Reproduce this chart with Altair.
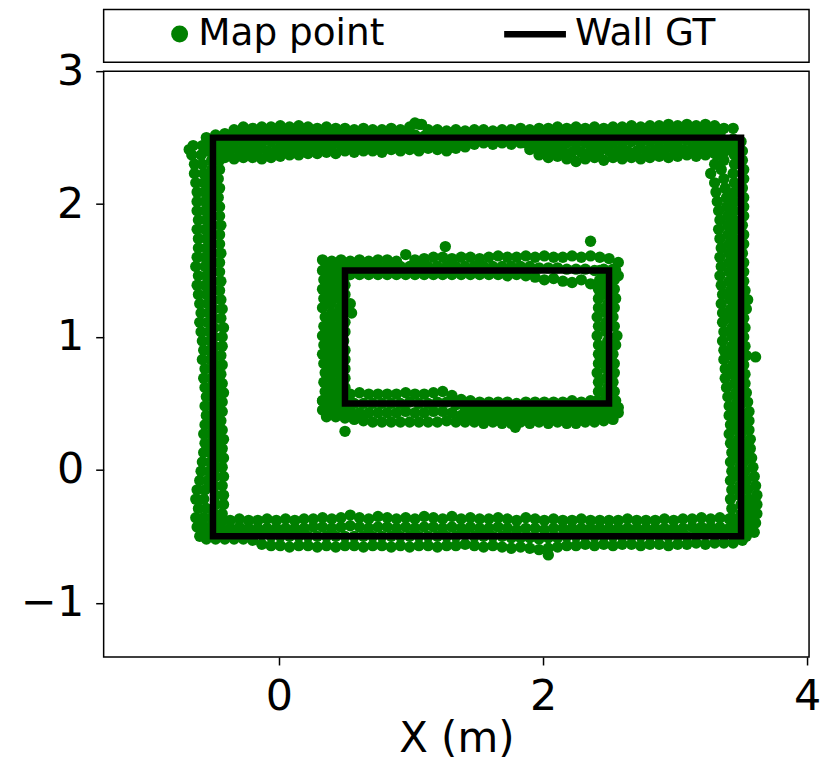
import altair as alt
import pandas as pd

GREEN = "#008000"

# ---------------- Wall ground truth (m) ----------------
OUTER_WALL_X = [-0.5, 3.5, 3.5, -0.5, -0.5]
OUTER_WALL_Y = [-0.5, -0.5, 2.5, 2.5, -0.5]
INNER_WALL_X = [0.5, 2.5, 2.5, 0.5, 0.5]
INNER_WALL_Y = [0.5, 0.5, 1.5, 1.5, 0.5]

# ---------------- Map points (cm) ----------------
# Outer top wall: x positions (two interleaved rows) and y of each track
TOP_A = [-55, -48, -41, -34, -27, -20, -13, -6, 1, 8, 15, 22, 29, 36, 43, 50, 57, 64, 71, 78,
         85, 92, 99, 106, 113, 120, 127, 134, 141, 148, 155, 162, 169, 176, 183, 190, 197, 204,
         211, 218, 225, 232, 239, 246, 253, 260, 267, 274, 281, 288, 295, 302, 309, 316, 323,
         330, 337, 344]
TOP_B = [-51, -44, -37, -30, -23, -16, -9, -2, 5, 12, 19, 26, 33, 40, 47, 54, 61, 68, 75, 82,
         89, 96, 103, 110, 117, 124, 131, 138, 145, 152, 159, 166, 173, 180, 187, 194, 201, 208,
         215, 222, 229, 236, 243, 250, 257, 264, 271, 278, 285, 292, 299, 306, 313, 320, 327, 334]
TOP_T1 = [250, 252, 253, 256, 258, 257, 258, 258, 259, 258, 259, 258, 257, 258, 257, 257, 256, 257,
          256, 256, 257, 256, 258, 260, 256, 256, 255, 256, 255, 256, 256, 255, 256, 256, 257, 256,
          257, 257, 258, 257, 258, 257, 258, 257, 258, 258, 259, 258, 259, 259, 260, 259, 260, 259,
          260, 259, 257, 257]
TOP_T2 = [247, 248, 250, 252, 252, 252, 253, 253, 253, 253, 253, 252, 253, 252, 252, 251, 251, 251,
          251, 251, 251, 252, 252, 251, 251, 250, 251, 251, 252, 252, 252, 252, 252, 252, 252, 252,
          252, 252, 252, 252, 253, 252, 253, 252, 253, 253, 253, 254, 253, 254, 254, 254, 254, 254,
          254, 253]
TOP_T3 = [245, 244, 245, 246, 246, 246, 246, 247, 247, 247, 248, 248, 248, 248, 248, 248, 248, 248,
          248, 248, 248, 248, 249, 249, 249, 248, 248, 249, 249, 250, 250, 250, 250, 250, 251, 248,
          246, 246, 246, 246, 245, 246, 246, 246, 246, 246, 247, 246, 247, 247, 247, 247, 248, 248,
          248, 248, 248, 249]
TOP_T4 = [241, 240, 240, 240, 240, 240, 240, 241, 242, 242, 243, 243, 243, 244, 244, 244, 244, 245,
          244, 245, 245, 245, 245, 245, 246, 245, 246, 246, 247, 248, 248, 248, 248, 248, 246, 243,
          241, 240, 240, 239, 239, 240, 240, 240, 240, 240, 240, 240, 241, 241, 241, 241, 242, 242,
          242, 243]
TOP_T5 = [240, 236, 235, 234, 235, 235, 234, 235, 236, 237, 237, 238, 238, 239, 238, 240, 239, 240,
          240, 239, 241, 240, 241, 240, 242, 241, 240, 242, 243, 245, 246, 245, 246, 245, 246, 241,
          237, 235, 236, 234, 232, 234, 235, 233, 235, 234, 235, 234, 235, 236, 235, 236, 237, 236,
          237, 238, 240, 242]

# Outer bottom wall
BOT_A = [-58, -51, -44, -37, -30, -23, -16, -9, -2, 5, 12, 19, 26, 33, 40, 47, 54, 61, 68, 75,
         82, 89, 96, 103, 110, 117, 124, 131, 138, 145, 152, 159, 166, 173, 180, 187, 194, 201,
         208, 215, 222, 229, 236, 243, 250, 257, 264, 271, 278, 285, 292, 299, 306, 313, 320,
         327, 334, 341, 348, 355]
BOT_B = [-55, -48, -41, -34, -27, -20, -13, -6, 1, 8, 15, 22, 29, 36, 43, 50, 57, 64, 71, 78,
         85, 92, 99, 106, 113, 120, 127, 134, 141, 148, 155, 162, 169, 176, 183, 190, 197, 204,
         211, 218, 225, 232, 239, 246, 253, 260, 267, 274, 281, 288, 295, 302, 309, 316, 323,
         330, 337, 344, 351]
BOT_T1 = [-37, -36, -38, -38, -37, -38, -38, -37, -38, -37, -38, -37, -37, -36, -37, -36, -34, -36,
          -37, -35, -36, -37, -36, -37, -35, -36, -37, -35, -37, -36, -37, -37, -36, -37, -38, -36,
          -37, -38, -37, -38, -38, -37, -38, -38, -38, -38, -37, -38, -38, -38, -37, -38, -37, -37,
          -36, -37, -36, -37, -38, -41]
BOT_T2 = [-43, -43, -44, -44, -43, -44, -44, -44, -44, -44, -44, -44, -43, -43, -44, -43, -42, -43,
          -44, -43, -43, -44, -43, -44, -43, -43, -44, -43, -44, -43, -44, -44, -43, -44, -45, -44,
          -44, -45, -44, -44, -44, -44, -44, -44, -44, -44, -44, -44, -44, -44, -44, -44, -44, -43,
          -43, -43, -43, -44, -44, -46]
BOT_T3 = [-48, -48, -48, -48, -48, -48, -49, -50, -50, -50, -50, -50, -50, -50, -50, -50, -50, -50,
          -50, -50, -50, -50, -50, -50, -50, -50, -50, -50, -49, -50, -50, -50, -50, -51, -51, -51,
          -52, -51, -51, -50, -50, -50, -50, -50, -50, -50, -50, -50, -50, -50, -50, -50, -50, -49,
          -49, -49, -49, -49, -49]
BOT_T4 = [-52, -52, -52, -52, -52, -53, -56, -57, -57, -58, -57, -57, -58, -57, -58, -57, -57, -58,
          -57, -57, -58, -57, -58, -57, -57, -58, -57, -57, -56, -57, -58, -57, -58, -59, -58, -59,
          -60, -59, -58, -57, -57, -56, -57, -56, -57, -56, -56, -57, -56, -56, -57, -56, -56, -55,
          -56, -55, -55, -55, -53]

# Outer left / right walls: y positions (two interleaved rows) and x of each track
VERT_A = [-50, -43, -36, -29, -22, -15, -8, -1, 6, 13, 20, 27, 34, 41, 48, 55, 62, 69, 76, 83,
          90, 97, 104, 111, 118, 125, 132, 139, 146, 153, 160, 167, 174, 181, 188, 195, 202, 209,
          216, 223, 230, 237, 244]
VERT_B = [-47, -40, -33, -26, -19, -12, -5, 2, 9, 16, 23, 30, 37, 44, 51, 58, 65, 72, 79, 86,
          93, 100, 107, 114, 121, 128, 135, 142, 149, 156, 163, 170, 177, 184, 191, 198, 205, 212,
          219, 226, 233, 240, 247]
LEFT_T1 = [-60, -62, -63, -61, -63, -62, -60, -59, -58, -57, -56, -57, -56, -55, -56, -55, -56, -57,
           -56, -58, -57, -58, -59, -60, -59, -60, -61, -62, -61, -63, -62, -61, -61, -62, -61, -62,
           -62, -62, -63, -64, -64, -66, -65]
LEFT_T2 = [-54, -56, -57, -55, -57, -56, -54, -53, -52, -52, -51, -52, -51, -50, -51, -50, -51, -51,
           -51, -52, -52, -52, -53, -54, -53, -54, -55, -56, -55, -56, -56, -55, -55, -56, -55, -56,
           -56, -56, -57, -57, -58, -59, -58]
LEFT_T3 = [-50, -50, -49, -48, -48, -49, -48, -48, -47, -47, -47, -47, -47, -47, -47, -47, -47, -48,
           -48, -49, -49, -49, -49, -50, -49, -50, -51, -50, -51, -51, -50, -51, -51, -50, -51, -51,
           -52, -51, -52, -51, -51, -52, -52]
LEFT_T4 = [-44, -44, -43, -42, -42, -43, -42, -43, -42, -43, -42, -43, -44, -43, -43, -42, -43, -44,
           -43, -44, -43, -43, -42, -44, -43, -44, -45, -44, -45, -45, -44, -45, -45, -44, -45, -45,
           -46, -45, -46, -45, -45, -46, -46]
RIGHT_T1 = [344, 343, 343, 343, 342, 343, 342, 343, 342, 343, 342, 341, 342, 341, 341, 340, 339, 338,
            338, 337, 337, 336, 337, 336, 336, 335, 336, 335, 334, 335, 334, 335, 334, 333, 334, 333,
            332, 331, 330, 327, 330, 332, 334]
RIGHT_T2 = [349, 349, 350, 350, 349, 349, 348, 349, 348, 348, 348, 347, 347, 347, 347, 346, 345, 344,
            344, 343, 343, 343, 343, 342, 342, 342, 342, 341, 341, 341, 341, 341, 340, 340, 340, 339,
            339, 338, 337, 335, 337, 338, 340]
RIGHT_T3 = [354, 355, 356, 356, 356, 355, 354, 353, 352, 352, 351, 350, 350, 350, 349, 348, 348, 347,
            347, 347, 347, 346, 346, 346, 347, 348, 347, 346, 346, 346, 345, 346, 345, 345, 345, 345,
            345, 345, 345, 344, 345, 345, 345]
RIGHT_T4 = [360, 361, 362, 362, 362, 361, 360, 359, 358, 357, 357, 356, 356, 356, 355, 354, 353, 353,
            352, 354, 353, 352, 353, 352, 354, 355, 353, 352, 352, 352, 351, 352, 352, 351, 352, 352,
            352, 351, 352, 352, 351, 351, 350]

# Inner top / bottom walls
IN_A = [33, 40, 47, 54, 61, 68, 75, 82, 89, 96, 103, 110, 117, 124, 131, 138, 145, 152, 159, 166,
        173, 180, 187, 194, 201, 208, 215, 222, 229, 236, 243, 250, 257]
IN_B = [36, 43, 50, 57, 64, 71, 78, 85, 92, 99, 106, 113, 120, 127, 134, 141, 148, 155, 162, 169,
        176, 183, 190, 197, 204, 211, 218, 225, 232, 239, 246, 253]
IN_TOP_T1 = [158, 157, 158, 157, 158, 157, 158, 158, 157, 162, 158, 159, 160, 160, 159, 160, 160,
             159, 160, 161, 160, 160, 161, 160, 161, 160, 160, 161, 160, 161, 160, 159, 156]
IN_TOP_T2 = [154, 153, 153, 152, 152, 152, 152, 152, 153, 153, 153, 153, 153, 153, 153, 153, 153,
             153, 153, 153, 153, 153, 153, 152, 152, 152, 151, 151, 151, 150, 151, 151]
IN_TOP_T3 = [150, 149, 148, 147, 147, 147, 147, 147, 147, 147, 147, 147, 147, 147, 147, 147, 147,
             147, 147, 147, 146, 147, 146, 145, 143, 144, 142, 141, 143, 140, 142, 144, 146]
IN_BOT_T1 = [52, 54, 55, 57, 58, 57, 57, 57, 57, 58, 57, 57, 58, 59, 56, 53, 52, 51, 51, 51, 51, 50,
             51, 51, 51, 51, 51, 52, 51, 52, 51, 50, 47]
IN_BOT_T2 = [48, 49, 50, 50, 50, 50, 50, 50, 50, 51, 50, 50, 51, 51, 49, 46, 46, 46, 46, 46, 45, 46,
             46, 46, 46, 46, 46, 46, 46, 46, 46, 45]
IN_BOT_T3 = [45, 45, 45, 44, 43, 43, 43, 43, 43, 44, 43, 43, 44, 44, 43, 41, 41, 41, 41, 41, 40, 41,
             41, 41, 41, 41, 41, 41, 41, 42, 42, 42, 43]
IN_BOT_T4 = [40, 40, 39, 38, 37, 36, 36, 36, 36, 36, 36, 36, 36, 37, 36, 36, 36, 35, 36, 35, 35, 36,
             35, 36, 35, 36, 35, 35, 36, 36, 37, 38]

# Inner left / right walls
IN_VA = [45, 52, 59, 66, 73, 80, 87, 94, 101, 108, 115, 122, 129, 136, 143, 150]
IN_VB = [48, 55, 62, 69, 76, 83, 90, 97, 104, 111, 118, 125, 132, 139, 146]
IN_LEFT_T1 = [34, 33, 35, 34, 35, 34, 33, 34, 33, 34, 35, 33, 34, 33, 34, 34]
IN_LEFT_T2 = [39, 39, 40, 39, 40, 39, 39, 39, 39, 39, 40, 39, 39, 39, 39]
IN_LEFT_T3 = [45, 45, 45, 45, 45, 45, 45, 45, 44, 45, 45, 46, 45, 45, 45, 45]
IN_LEFT_T4 = [50, 51, 50, 50, 50, 50, 50, 49, 50, 50, 55, 54, 50, 50, 51]
IN_RIGHT_T1 = [242, 241, 242, 242, 241, 242, 242, 242, 241, 242, 241, 242, 242, 242, 243, 243]
IN_RIGHT_T2 = [248, 248, 249, 248, 248, 248, 248, 249, 248, 248, 248, 249, 248, 248, 249]
IN_RIGHT_T3 = [254, 255, 254, 253, 254, 254, 253, 255, 256, 254, 253, 254, 255, 254, 254, 255]

# Isolated points (x cm, y cm)
OUTLIER_X = [103, 108, 361, 204, 126, 236, 50, 179, -68]
OUTLIER_Y = [261, 260, 85, -64, 168, 172, 29, 32, 241]

# ---------------- build tables ----------------
BANDS = [
    (TOP_A, TOP_T1, True), (TOP_B, TOP_T2, True), (TOP_A, TOP_T3, True),
    (TOP_B, TOP_T4, True), (TOP_A, TOP_T5, True),
    (BOT_A, BOT_T1, True), (BOT_A, BOT_T2, True), (BOT_B, BOT_T3, True), (BOT_B, BOT_T4, True),
    (VERT_A, LEFT_T1, False), (VERT_A, LEFT_T2, False), (VERT_B, LEFT_T3, False),
    (VERT_B, LEFT_T4, False),
    (VERT_A, RIGHT_T1, False), (VERT_B, RIGHT_T2, False), (VERT_A, RIGHT_T3, False),
    (VERT_B, RIGHT_T4, False),
    (IN_A, IN_TOP_T1, True), (IN_B, IN_TOP_T2, True), (IN_A, IN_TOP_T3, True),
    (IN_A, IN_BOT_T1, True), (IN_B, IN_BOT_T2, True), (IN_A, IN_BOT_T3, True),
    (IN_B, IN_BOT_T4, True),
    (IN_VA, IN_LEFT_T1, False), (IN_VB, IN_LEFT_T2, False), (IN_VA, IN_LEFT_T3, False),
    (IN_VB, IN_LEFT_T4, False),
    (IN_VA, IN_RIGHT_T1, False), (IN_VB, IN_RIGHT_T2, False), (IN_VA, IN_RIGHT_T3, False),
]

px, py = [], []
for along, across, horizontal in BANDS:
    for a, c in zip(along, across):
        if horizontal:
            px.append(a / 100.0)
            py.append(c / 100.0)
        else:
            px.append(c / 100.0)
            py.append(a / 100.0)
for a, c in zip(OUTLIER_X, OUTLIER_Y):
    px.append(a / 100.0)
    py.append(c / 100.0)

points_df = pd.DataFrame({"x": px, "y": py, "series": "Map point"})

wall_rows = []
for name, xs, ys in [("outer", OUTER_WALL_X, OUTER_WALL_Y), ("inner", INNER_WALL_X, INNER_WALL_Y)]:
    for i, (x, y) in enumerate(zip(xs, ys)):
        wall_rows.append({"x": x, "y": y, "wall": name, "order": i, "series": "Wall GT"})
walls_df = pd.DataFrame(wall_rows)

# ---------------- chart ----------------
FONT = "DejaVu Sans"
x_scale = alt.Scale(domain=[-1.328, 4.015], nice=False, zero=False)
y_scale = alt.Scale(domain=[-1.408, 3.0], nice=False, zero=False)
x_axis = alt.Axis(values=[0, 2, 4], title="X (m)", labelFlush=False, labelOverlap=False)
y_axis = alt.Axis(values=[-1, 0, 1, 2, 3], title=None, labelFlush=False, labelOverlap=False)

points = alt.Chart(points_df).mark_circle(size=130, opacity=1).encode(
    x=alt.X("x:Q", scale=x_scale, axis=x_axis),
    y=alt.Y("y:Q", scale=y_scale, axis=y_axis),
    color=alt.Color(
        "series:N",
        scale=alt.Scale(domain=["Map point"], range=[GREEN]),
        legend=alt.Legend(orient="none", legendX=44, legendY=-56, title=None,
                          symbolType="circle", symbolSize=289, symbolStrokeWidth=0,
                          symbolOffset=13.5,
                          labelFontSize=37.5, labelOffset=0, labelLimit=400,
                          labelFont=FONT, labelColor="black"),
    ),
)

walls = alt.Chart(walls_df).mark_line(strokeWidth=6.5, strokeCap="square", strokeJoin="miter").encode(
    x=alt.X("x:Q", scale=x_scale, axis=x_axis),
    y=alt.Y("y:Q", scale=y_scale, axis=y_axis),
    order="order:Q",
    detail="wall:N",
    color=alt.Color(
        "series:N",
        scale=alt.Scale(domain=["Wall GT"], range=["black"]),
        legend=alt.Legend(orient="none", legendX=398.5, legendY=-56, title=None,
                          symbolType="stroke", symbolSize=3844, symbolStrokeWidth=6.5,
                          clipHeight=38,
                          labelFontSize=37.5, labelOffset=5.5, labelLimit=400,
                          labelFont=FONT, labelColor="black"),
    ),
)

main = alt.layer(points, walls).resolve_scale(color="independent").resolve_legend(
    color="independent").properties(width=708, height=588)

# empty panel whose frame is the legend box
box = alt.Chart(pd.DataFrame({"a": [0]})).mark_text(text="").encode(
    x=alt.X("a:Q", axis=None, scale=alt.Scale(domain=[-1, 1])),
    y=alt.Y("a:Q", axis=None, scale=alt.Scale(domain=[-1, 1])),
).properties(width=708, height=53)

chart = alt.vconcat(box, main, spacing=9, bounds="flush").properties(
    padding={"left": 11, "top": -1, "right": 0, "bottom": 6}
).configure_view(stroke="black", strokeWidth=1.5).configure_axis(
    labelFont=FONT, titleFont=FONT, labelFontSize=43, titleFontSize=42,
    labelColor="black", titleColor="black", titleFontWeight="normal",
    tickColor="black", tickWidth=1.5, tickSize=8, domain=False, grid=False,
).configure_axisX(labelPadding=11, titlePadding=0).configure_axisY(labelPadding=12)

chart.save("out.html", embed_options={"renderer": "svg", "actions": False})
